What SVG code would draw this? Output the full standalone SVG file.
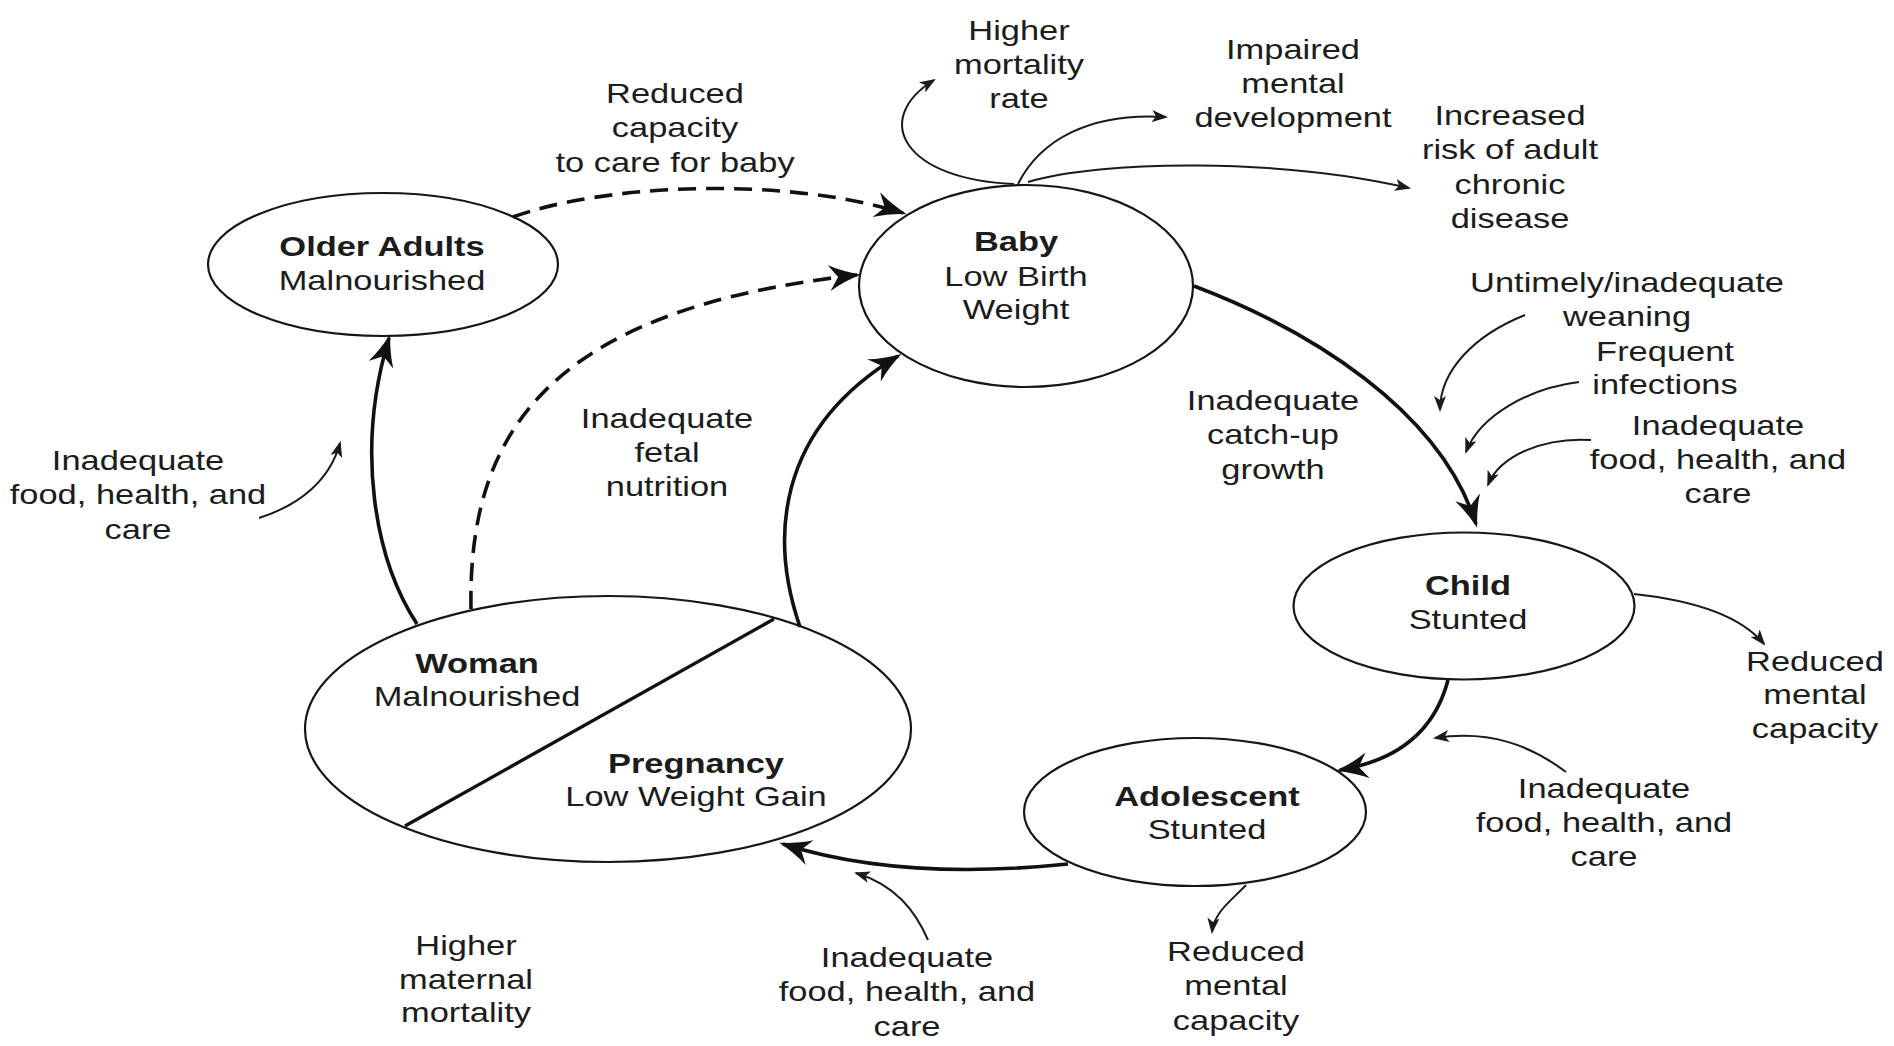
<svg xmlns="http://www.w3.org/2000/svg" width="1894" height="1046" viewBox="0 0 1894 1046">
<style>
.node{fill:none;stroke:#161616;stroke-width:2.2}
.t{font-family:"Liberation Sans",Arial,Helvetica,sans-serif;font-size:28px;fill:#1c1c1c;text-anchor:middle}
.b{font-weight:bold}
.main{fill:none;stroke:#111;stroke-width:3.6;marker-end:url(#big)}
.dash{fill:none;stroke:#111;stroke-width:3.6;stroke-dasharray:18 10;marker-end:url(#big)}
.thin{fill:none;stroke:#1a1a1a;stroke-width:2;marker-end:url(#small)}
.div{fill:none;stroke:#111;stroke-width:3.4}
</style>
<defs>
<marker id="big" viewBox="0 0 32 26" refX="28" refY="13" markerWidth="32" markerHeight="26" markerUnits="userSpaceOnUse" orient="auto">
<path d="M0,0 Q14,8 32,13 Q14,18 0,26 L9,13 z" fill="#111"/>
</marker>
<marker id="small" viewBox="0 0 16 12" refX="14" refY="6" markerWidth="16" markerHeight="12" markerUnits="userSpaceOnUse" orient="auto">
<path d="M0,0 L16,6 L0,12 L4,6 z" fill="#1a1a1a"/>
</marker>
</defs>
<rect width="1894" height="1046" fill="#ffffff"/>

<g id="older-adults">
<ellipse class="node" cx="383" cy="264.5" rx="175" ry="71.5"/>
<text class="t" transform="translate(382 256) scale(1.23 1)"><tspan class="b" x="0" y="0">Older Adults</tspan><tspan x="0" y="34">Malnourished</tspan></text>
</g>

<g id="baby">
<ellipse class="node" cx="1026" cy="286" rx="167" ry="101"/>
<text class="t" transform="translate(1016 251) scale(1.23 1)"><tspan class="b" x="0" y="0">Baby</tspan><tspan x="0" y="35">Low Birth</tspan><tspan x="0" y="68">Weight</tspan></text>
</g>

<g id="child">
<ellipse class="node" cx="1464" cy="606" rx="170.5" ry="73.5"/>
<text class="t" transform="translate(1468 595) scale(1.23 1)"><tspan class="b" x="0" y="0">Child</tspan><tspan x="0" y="34">Stunted</tspan></text>
</g>

<g id="adolescent">
<ellipse class="node" cx="1195" cy="812" rx="171" ry="74"/>
<text class="t" transform="translate(1207 806) scale(1.23 1)"><tspan class="b" x="0" y="0">Adolescent</tspan><tspan x="0" y="33">Stunted</tspan></text>
</g>

<g id="woman-pregnancy">
<ellipse class="node" cx="608" cy="729" rx="303" ry="133"/>
<line class="div" x1="774" y1="619" x2="405" y2="826"/>
<text class="t" transform="translate(477 673) scale(1.23 1)"><tspan class="b" x="0" y="0">Woman</tspan><tspan x="0" y="33">Malnourished</tspan></text>
<text class="t" transform="translate(696 773) scale(1.23 1)"><tspan class="b" x="0" y="0">Pregnancy</tspan><tspan x="0" y="33">Low Weight Gain</tspan></text>
</g>

<g id="connectors">
<path class="dash" d="M513 217 C600 185 780 175 903 213"/>
<path class="dash" d="M471 609 C468 440 540 310 857 275"/>
<path class="main" d="M417 624 C375 560 355 450 389 338"/>
<path class="main" d="M800 627 C770 540 775 430 898 356"/>
<path class="main" d="M1194 286 C1310 330 1440 410 1476 524"/>
<path class="main" d="M1448 680 C1435 730 1400 760 1340 770"/>
<path class="main" d="M1068 864 C990 872 880 875 783 844"/>
<path class="thin" d="M1014 184 C905 180 870 120 934 80"/>
<path class="thin" d="M1018 184 C1040 140 1090 112 1166 117"/>
<path class="thin" d="M1028 182 C1100 160 1280 158 1409 188"/>
<path class="thin" d="M1525 315 C1475 335 1440 370 1440 410"/>
<path class="thin" d="M1579 382 C1530 388 1480 415 1466 452"/>
<path class="thin" d="M1591 440 C1545 437 1500 455 1488 485"/>
<path class="thin" d="M1634 594 C1690 600 1740 615 1764 644"/>
<path class="thin" d="M1566 772 C1530 745 1490 730 1435 738"/>
<path class="thin" d="M1246 885 C1232 900 1214 912 1212 932"/>
<path class="thin" d="M928 940 C915 910 895 885 856 873"/>
<path class="thin" d="M259 518 C300 505 330 480 340 443"/>
</g>

<g id="labels">
<text id="lbl-reduced-care" class="t" transform="translate(675 103) scale(1.23 1)"><tspan x="0" y="0">Reduced</tspan><tspan x="0" y="34.5">capacity</tspan><tspan x="0" y="69">to care for baby</tspan></text>
<text id="lbl-mortality" class="t" transform="translate(1019 40) scale(1.23 1)"><tspan x="0" y="0">Higher</tspan><tspan x="0" y="34.5">mortality</tspan><tspan x="0" y="68">rate</tspan></text>
<text id="lbl-impaired" class="t" transform="translate(1293 59) scale(1.23 1)"><tspan x="0" y="0">Impaired</tspan><tspan x="0" y="34">mental</tspan><tspan x="0" y="68">development</tspan></text>
<text id="lbl-chronic" class="t" transform="translate(1510 125) scale(1.23 1)"><tspan x="0" y="0">Increased</tspan><tspan x="0" y="34.5">risk of adult</tspan><tspan x="0" y="69">chronic</tspan><tspan x="0" y="103.5">disease</tspan></text>
<text id="lbl-weaning" class="t" transform="translate(1627 292) scale(1.23 1)"><tspan x="0" y="0">Untimely/inadequate</tspan><tspan x="0" y="34">weaning</tspan></text>
<text id="lbl-infections" class="t" transform="translate(1665 361) scale(1.23 1)"><tspan x="0" y="0">Frequent</tspan><tspan x="0" y="33">infections</tspan></text>
<text id="lbl-food-child" class="t" transform="translate(1718 435) scale(1.23 1)"><tspan x="0" y="0">Inadequate</tspan><tspan x="0" y="34">food, health, and</tspan><tspan x="0" y="68">care</tspan></text>
<text id="lbl-catchup" class="t" transform="translate(1273 410) scale(1.23 1)"><tspan x="0" y="0">Inadequate</tspan><tspan x="0" y="34">catch-up</tspan><tspan x="0" y="69">growth</tspan></text>
<text id="lbl-fetal" class="t" transform="translate(667 428) scale(1.23 1)"><tspan x="0" y="0">Inadequate</tspan><tspan x="0" y="34">fetal</tspan><tspan x="0" y="68">nutrition</tspan></text>
<text id="lbl-food-left" class="t" transform="translate(138 470) scale(1.23 1)"><tspan x="0" y="0">Inadequate</tspan><tspan x="0" y="34.5">food, health, and</tspan><tspan x="0" y="69">care</tspan></text>
<text id="lbl-mental-child" class="t" transform="translate(1815 671) scale(1.23 1)"><tspan x="0" y="0">Reduced</tspan><tspan x="0" y="33.5">mental</tspan><tspan x="0" y="67">capacity</tspan></text>
<text id="lbl-food-adol" class="t" transform="translate(1604 798) scale(1.23 1)"><tspan x="0" y="0">Inadequate</tspan><tspan x="0" y="34">food, health, and</tspan><tspan x="0" y="68">care</tspan></text>
<text id="lbl-mental-adol" class="t" transform="translate(1236 961) scale(1.23 1)"><tspan x="0" y="0">Reduced</tspan><tspan x="0" y="34.5">mental</tspan><tspan x="0" y="69">capacity</tspan></text>
<text id="lbl-food-preg" class="t" transform="translate(907 967) scale(1.23 1)"><tspan x="0" y="0">Inadequate</tspan><tspan x="0" y="34.5">food, health, and</tspan><tspan x="0" y="69">care</tspan></text>
<text id="lbl-maternal" class="t" transform="translate(466 955) scale(1.23 1)"><tspan x="0" y="0">Higher</tspan><tspan x="0" y="34">maternal</tspan><tspan x="0" y="67">mortality</tspan></text>
</g>
</svg>
